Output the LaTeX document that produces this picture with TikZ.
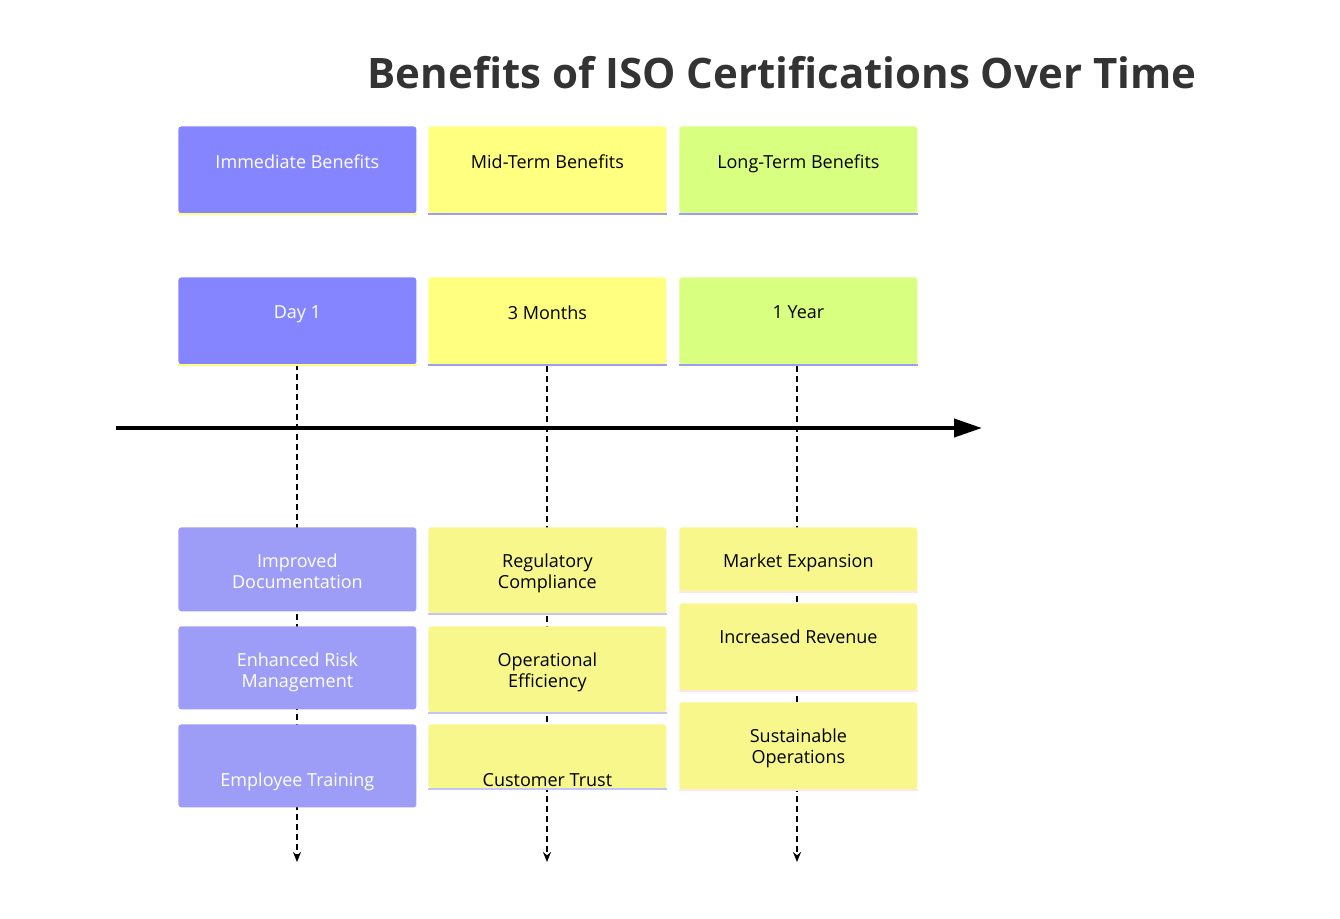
\documentclass[tikz,border=0pt]{standalone}
\usepackage{fontspec}
\setmainfont{Open Sans}
\usetikzlibrary{arrows.meta,positioning}
\definecolor{purpH}{HTML}{8585FF}
\definecolor{purpL}{HTML}{9D9DF7}
\definecolor{yelH}{HTML}{FFFF80}
\definecolor{yelL}{HTML}{F7F78C}
\definecolor{grnH}{HTML}{D9FF80}
\begin{document}
\begin{tikzpicture}[x=0.5pt,y=-0.5pt,
  box/.style = {rounded corners=1.5pt, minimum width=119pt, anchor=north west, inner sep=0pt},
  lbl/.style = {font=\fontsize{9}{10.5}\selectfont, align=center, anchor=north},
  dashline/.style = {dashed, dash pattern=on 3pt off 2pt, line width=0.9pt, -{Stealth[length=5pt,width=4pt]}}]
  \useasboundingbox (0,0) rectangle (1340,918);
  \node[font=\fontsize{21}{24}\selectfont\bfseries, text=black!80] (title) at (782,73) {Benefits of ISO Certifications Over Time};
  % timeline
  \coordinate (t0) at (116,428);
  \coordinate (t1) at (982,428);
  \draw[line width=2pt, -{Triangle[length=14pt,width=9pt]}] (t0) -- (t1);
  % dashed connectors
  \coordinate (e1) at (297,862);
  \coordinate (e2) at (547,862);
  \coordinate (e3) at (797,862);
  \coordinate (s1) at (297,364);
  \coordinate (s2) at (547,366);
  \coordinate (s3) at (797,366);
  \draw[dashline] (s1) -- (e1);
  \draw[dashline] (s2) -- (e2);
  \draw[dashline] (s3) -- (e3);
  % header row
  \node[box, fill=purpH, minimum height=43.5pt] (imm) at (178,126) {};
  \node[box, fill=yelH, minimum height=43.5pt] (mid) at (428,126) {};
  \node[box, fill=grnH, minimum height=43.5pt] (long) at (679,126) {};
  \node[lbl, text=white] at ([yshift=-11pt]imm.north) {Immediate Benefits};
  \node[lbl] at ([yshift=-11pt]mid.north) {Mid-Term Benefits};
  \node[lbl] at ([yshift=-11pt]long.north) {Long-Term Benefits};
  % time row
  \node[box, fill=purpH, minimum height=43.5pt] (day) at (178,277) {};
  \node[box, fill=yelH, minimum height=43.5pt] (mon) at (428,277) {};
  \node[box, fill=grnH, minimum height=43.5pt] (year) at (679,277) {};
  \node[lbl, text=white] at ([yshift=-11pt]day.north) {Day 1};
  \node[lbl] at ([yshift=-11pt]mon.north) {3 Months};
  \node[lbl] at ([yshift=-11pt]year.north) {1 Year};
  % bottom lines under boxes
  \foreach \n/\c in {imm/yelH, mid/purpL, long/purpL, day/yelH, mon/purpL, year/purpL}
    \draw[\c, line width=1pt] (\n.south west) -- (\n.south east);
  % immediate benefits
  \node[box, fill=purpL, minimum height=42pt] (doc) at (178,527) {};
  \node[box, fill=purpL, minimum height=41.5pt] (risk) at (178,626) {};
  \node[box, fill=purpL, minimum height=41.5pt] (train) at (178,724) {};
  \node[lbl, text=white] at ([yshift=-10pt]doc.north) {Improved\\Documentation};
  \node[lbl, text=white] at ([yshift=-10pt]risk.north) {Enhanced Risk\\Management};
  \node[lbl, text=white] at ([yshift=-21pt]train.north) {Employee Training};
  % mid-term benefits
  \node[box, fill=yelL, minimum height=43pt] (reg) at (428,527) {};
  \node[box, fill=yelL, minimum height=43pt] (ops) at (428,626) {};
  \node[box, fill=yelL, minimum height=32pt] (trust) at (428,724) {};
  \node[lbl] at ([yshift=-10pt]reg.north) {Regulatory\\Compliance};
  \node[lbl] at ([yshift=-10pt]ops.north) {Operational\\Efficiency};
  \node[lbl] at ([yshift=-21pt]trust.north) {Customer Trust};
  % long-term benefits
  \node[box, fill=yelL, minimum height=32pt] (mkt) at (679,527) {};
  \node[box, fill=yelL, minimum height=43.5pt] (rev) at (679,603) {};
  \node[box, fill=yelL, minimum height=43.5pt] (sust) at (679,702) {};
  \node[lbl] at ([yshift=-10pt]mkt.north) {Market Expansion};
  \node[lbl] at ([yshift=-10pt]rev.north) {Increased Revenue};
  \node[lbl] at ([yshift=-10pt]sust.north) {Sustainable\\Operations};
  \foreach \n in {reg, ops, trust}
    \draw[purpL!60, line width=1pt] (\n.south west) -- (\n.south east);
  \foreach \n in {mkt, rev, sust}
    \draw[red!10, line width=1pt] (\n.south west) -- (\n.south east);
\end{tikzpicture}
\end{document}
